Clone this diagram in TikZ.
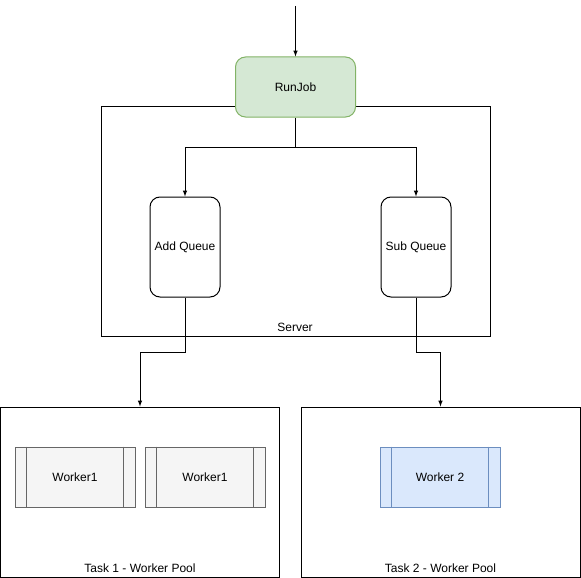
\documentclass[tikz,border=0pt]{standalone}
\usepackage{fontspec}
\setmainfont{Liberation Sans}
\usepackage{tikz}
\usepackage{xcolor}

\definecolor{greenfill}{HTML}{D5E8D4}
\definecolor{greenline}{HTML}{82B366}
\definecolor{grayfill}{HTML}{F5F5F5}
\definecolor{grayline}{HTML}{666666}
\definecolor{bluefill}{HTML}{DAE8FC}
\definecolor{blueline}{HTML}{6C8EBF}

\begin{document}
\begin{tikzpicture}[x=1pt, y=-1pt, >=latex, line width=1pt, font=\fontsize{12}{14}\selectfont,
  frame/.style={draw, minimum width=#1, inner sep=0pt},
  queuebox/.style={draw, rounded corners=10pt, minimum width=70pt, minimum height=100pt, inner sep=0pt},
  runbox/.style={draw=greenline, fill=greenfill, rounded corners=10pt, minimum width=120pt, minimum height=60pt},
  workerbox/.style={draw=#1line, fill=#1fill, minimum width=120pt, minimum height=60pt, inner sep=0pt}]
\useasboundingbox (0,0) rectangle (581,578);

% server
\node[frame=389pt, minimum height=230pt] (server) at (295.5,221.5) {};
\node (serverlbl) at (295,327) {Server};
\node[runbox] (run) at (295.5,87) {RunJob};
\coordinate (in) at (295.5,6);
\coordinate (split) at (295.5,147);

\node[queuebox] (addq) at (185,247) {Add Queue};
\node[queuebox] (subq) at (416,247) {Sub Queue};

% worker pools
\node[frame=279pt, minimum height=170pt] (task1) at (140,492) {};
\node[frame=279pt, minimum height=170pt] (task2) at (440.5,492) {};
\node (task1lbl) at (140,568) {Task 1 - Worker Pool};
\node (task2lbl) at (440.5,568) {Task 2 - Worker Pool};

\node[workerbox=gray] (w1) at (75,477) {Worker1};
\node[workerbox=gray] (w2) at (205,477) {Worker1};
\node[workerbox=blue] (w3) at (440,477) {Worker 2};
\foreach \w/\c in {w1/grayline, w2/grayline, w3/blueline}{
  \draw[\c] ([xshift=12pt]\w.north west) -- ([xshift=12pt]\w.south west);
  \draw[\c] ([xshift=-12pt]\w.north east) -- ([xshift=-12pt]\w.south east);
}

% connectors
\draw[->] (in) -- (run);
\draw (run) -- (split);
\draw[->] (split) -| (addq);
\draw[->] (split) -| (subq);
\draw[->] (addq.south) -- ++(0,55) -| (task1.north);
\draw[->] (subq.south) -- ++(0,55) -| (task2.north);
\end{tikzpicture}
\end{document}
